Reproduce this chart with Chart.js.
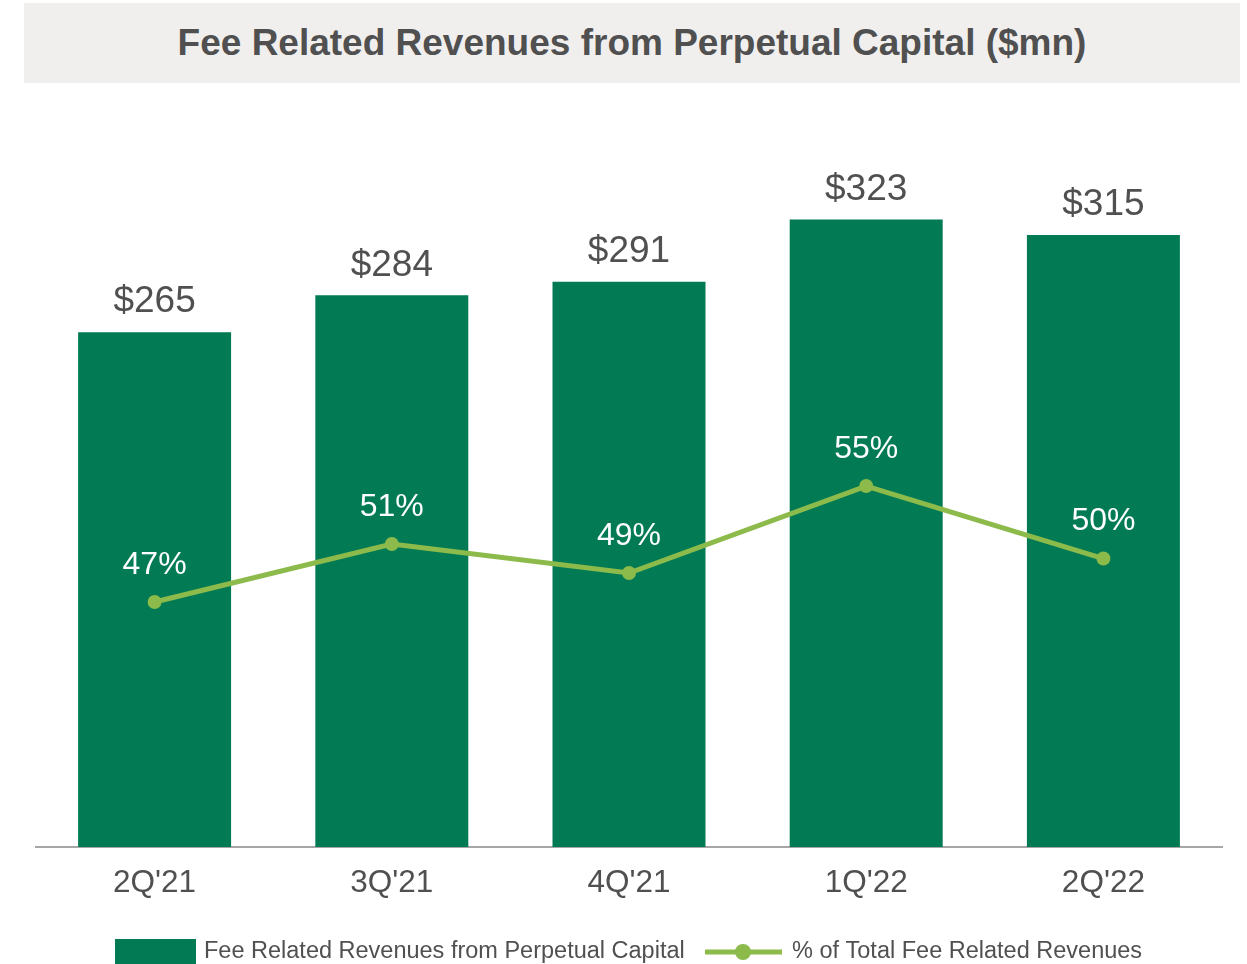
<!DOCTYPE html>
<html>
<head>
<meta charset="utf-8">
<script src="https://cdn.jsdelivr.net/npm/chart.js@4"></script>
<style>
  html, body { margin: 0; padding: 0; background: #ffffff; }
  #wrap { position: relative; width: 1247px; height: 964px; overflow: hidden; }
  #title {
    position: absolute; left: 24px; top: 3px; width: 1216px; height: 80px;
    background: #f0efee; color: #505050;
    font: bold 37px 'Liberation Sans', Arial, sans-serif;
    display: flex; align-items: center; justify-content: center;
  }
  #chart { position: absolute; left: 0; top: 0; }
</style>
</head>
<body>
<div id="wrap">
  <canvas id="chart" width="1247" height="964"></canvas>
  <div id="title">Fee Related Revenues from Perpetual Capital ($mn)</div>
</div>
<script>
// chart data
const quarters = ["2Q'21", "3Q'21", "4Q'21", "1Q'22", "2Q'22"];
const perpetualRevenues = [265, 284, 291, 323, 315];
const shareOfTotal = [47, 51, 49, 55, 50];

const barColor = '#027b55';
const lineColor = '#8cba4b';
const textColor = '#505050';
const fontFamily = "'Liberation Sans', Arial, sans-serif";

// value labels above bars and points
const valueLabels = {
    id: 'valueLabels',
    afterDatasetsDraw(chart) {
        const ctx = chart.ctx;
        ctx.save();
        ctx.textAlign = 'center';
        ctx.textBaseline = 'middle';
        chart.getDatasetMeta(1).data.forEach((bar, i) => {
            ctx.fillStyle = textColor;
            ctx.font = '37px ' + fontFamily;
            ctx.fillText('$' + perpetualRevenues[i], bar.x, bar.y - 30);
        });
        chart.getDatasetMeta(0).data.forEach((pt, i) => {
            ctx.fillStyle = '#ffffff';
            ctx.font = '32px ' + fontFamily;
            ctx.fillText(shareOfTotal[i] + '%', pt.x, pt.y - 37);
        });
        ctx.restore();
    }
};

// legend drawn at the bottom like the original
const bottomLegend = {
    id: 'bottomLegend',
    afterDraw(chart) {
        const ctx = chart.ctx;
        const bar = chart.data.datasets[1];
        const line = chart.data.datasets[0];
        const y = 952;
        ctx.save();
        ctx.font = '23.5px ' + fontFamily;
        ctx.textBaseline = 'middle';
        ctx.fillStyle = bar.backgroundColor;
        ctx.fillRect(115, 939, 81, 25);
        ctx.fillStyle = textColor;
        ctx.fillText(bar.label, 204, y);

        ctx.strokeStyle = line.borderColor;
        ctx.lineWidth = 5;
        ctx.beginPath();
        ctx.moveTo(705, y);
        ctx.lineTo(782, y);
        ctx.stroke();
        ctx.fillStyle = line.borderColor;
        ctx.beginPath();
        ctx.arc(743, y, 8, 0, Math.PI * 2);
        ctx.fill();
        ctx.fillStyle = textColor;
        ctx.fillText(line.label, 792, y);
        ctx.restore();
    }
};

new Chart(document.getElementById('chart'), {
    type: 'bar',
    data: {
        labels: quarters,
        datasets: [{
            type: 'line',
            label: '% of Total Fee Related Revenues',
            data: shareOfTotal,
            yAxisID: 'yPct',
            borderColor: lineColor,
            backgroundColor: lineColor,
            borderWidth: 5,
            pointRadius: 7,
            pointBackgroundColor: lineColor,
            pointBorderWidth: 0,
            tension: 0,
            order: 0
        }, {
            label: 'Fee Related Revenues from Perpetual Capital',
            data: perpetualRevenues,
            yAxisID: 'y',
            backgroundColor: barColor,
            categoryPercentage: 1,
            barPercentage: 0.645,
            order: 1
        }]
    },
    options: {
        responsive: false,
        animation: false,
        layout: { padding: { top: 70, left: 36, right: 25, bottom: 0 } },
        scales: {
            x: {
                grid: { display: false, drawTicks: false },
                border: { color: '#a6a6a6', width: 2 },
                ticks: { color: textColor, font: { family: fontFamily, size: 31.5 }, padding: 17 },
                afterFit(scale) { scale.height = 117; }
            },
            y: { display: false, min: 0, max: 400 },
            yPct: { display: false, position: 'right', min: 30.1, max: 83.7 }
        },
        plugins: {
            legend: { display: false },
            tooltip: { enabled: false }
        }
    },
    plugins: [valueLabels, bottomLegend]
});
</script>
</body>
</html>
